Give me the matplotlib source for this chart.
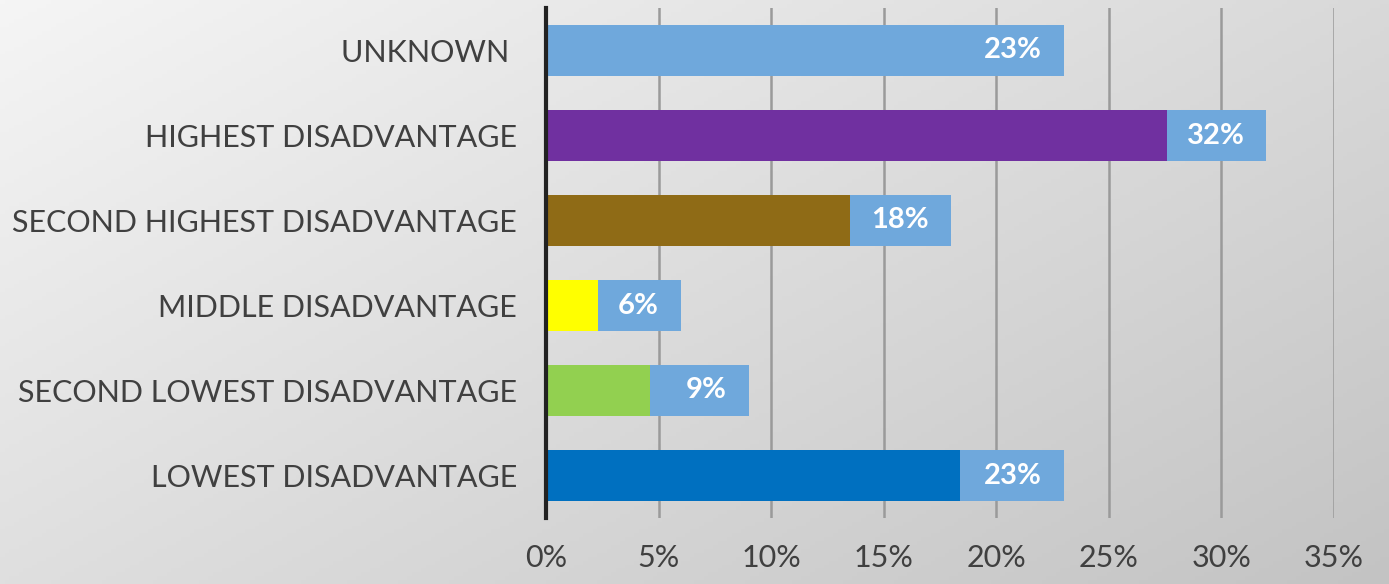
import numpy as np
import matplotlib
matplotlib.use("Agg")
import matplotlib.pyplot as plt

# categories, bottom to top
categories = ["LOWEST DISADVANTAGE", "SECOND LOWEST DISADVANTAGE", "MIDDLE DISADVANTAGE",
              "SECOND HIGHEST DISADVANTAGE", "HIGHEST DISADVANTAGE", "UNKNOWN "]
total_pct = [23, 9, 6, 18, 32, 23]
inner_pct = [18.4, 4.6, 2.3, 13.5, 27.6, 0]
inner_colors = ["#0070c0", "#92d050", "#ffff00", "#8f6b16", "#7030a0", "#6fa8dc"]
xticks = [0, 5, 10, 15, 20, 25, 30, 35]

plt.rcParams['font.family'] = ['Lato', 'DejaVu Sans']

fig = plt.figure(figsize=(13.89, 5.84), dpi=100)

# gradient background, light top-left to darker bottom-right
bg = fig.add_axes([0, 0, 1, 1])
gx, gy = np.meshgrid(np.linspace(0, 1, 300), np.linspace(0, 1, 150))
g = (245 - 28 * gx - 22 * gy) / 255.0
bg.imshow(np.dstack([g, g, g]), aspect="auto", extent=[0, 1, 0, 1], origin="upper")
bg.axis("off")

ax = fig.add_axes([546/1389, 66/584, (1334-546)/1389, (576-66)/584])
ax.patch.set_alpha(0)
y = np.arange(len(categories))

ax.barh(y, total_pct, height=0.61, color="#6fa8dc", zorder=3)
ax.barh(y, inner_pct, height=0.61, color=inner_colors, zorder=4)

for yi, v in zip(y, total_pct):
    ax.annotate(f"{v}%", xy=(v, yi), xytext=(-22, 0), textcoords="offset pixels",
                ha="right", va="center", color="white", fontsize=21, fontweight="bold", zorder=5)

ax.set_xlim(0, 35)
ax.set_ylim(-0.5, 5.5)
ax.set_xticks(xticks)
ax.set_xticklabels([f"{t}%" for t in xticks])
ax.set_yticks(y)
ax.set_yticklabels(categories)
ax.tick_params(axis="both", length=0, labelsize=22, labelcolor="#404040")
ax.tick_params(axis="x", pad=19)
ax.tick_params(axis="y", pad=21)
ax.grid(axis="x", color="#9a9a9a", linewidth=1.8, zorder=1)
for s in ["top", "right", "bottom"]:
    ax.spines[s].set_visible(False)
ax.spines["left"].set_color("#222222")
ax.spines["left"].set_linewidth(3)
ax.spines["left"].set_zorder(6)

fig.savefig("out.png", dpi=100)
